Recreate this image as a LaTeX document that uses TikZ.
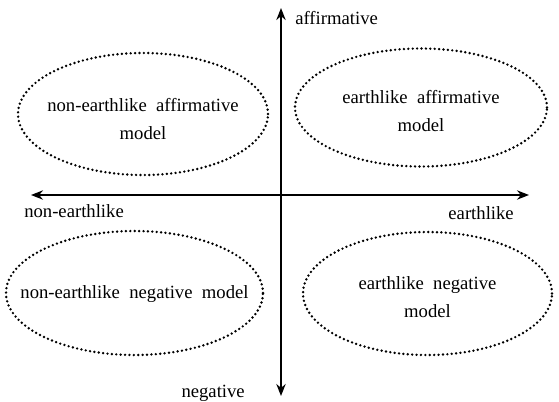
\documentclass[tikz,border=0pt]{standalone}
\usepackage{fontspec}
\setmainfont{Liberation Serif}
\usetikzlibrary{shapes.geometric,arrows.meta}
\begin{document}
\begin{tikzpicture}[x=0.75pt,y=-0.75pt,
  every node/.style={font=\fontsize{14}{21}\selectfont, inner sep=0pt},
  quad/.style={ellipse, draw, line width=2pt, dash pattern=on 0pt off 3.3pt, line cap=round},
  qtext/.style={align=center},
  axis/.style={line width=1.3pt, -{Stealth[length=9pt,width=7pt]}}]
\useasboundingbox (0,0) rectangle (559,401);
\coordinate (o) at (281,195);
\coordinate (top) at (281,8);
\coordinate (bot) at (281,396);
\coordinate (lft) at (31,195);
\coordinate (rgt) at (529,195);
\draw[axis] (o) -- (top);
\draw[axis] (o) -- (bot);
\draw[axis] (o) -- (lft);
\draw[axis] (o) -- (rgt);
\node[anchor=base west] (laff) at (295,24) {affirmative};
\node[anchor=base west] (lnon) at (24,217) {non-earthlike};
\node[anchor=base east] (lear) at (514,219) {earthlike};
\node[anchor=base east] (lneg) at (245,397) {negative};
\node[quad, minimum width=187.5pt, minimum height=91.5pt] (tl) at (143,114) {};
\node[quad, minimum width=189pt, minimum height=88.5pt] (tr) at (421,107.5) {};
\node[quad, minimum width=192.75pt, minimum height=93pt] (bl) at (134.5,293) {};
\node[quad, minimum width=186.75pt, minimum height=92.25pt] (br) at (427.5,293.5) {};
\node[qtext] (tlt) at ([yshift=-4pt]tl.center) {non-earthlike\ \ affirmative\\model};
\node[qtext] (trt) at ([yshift=-3pt]tr.center) {earthlike\ \ affirmative\\model};
\node[qtext] (blt) at ([yshift=-1pt]bl.center) {non-earthlike\ \ negative\ \ model};
\node[qtext] (brt) at ([yshift=-3pt]br.center) {earthlike\ \ negative\\model};
\end{tikzpicture}
\end{document}
